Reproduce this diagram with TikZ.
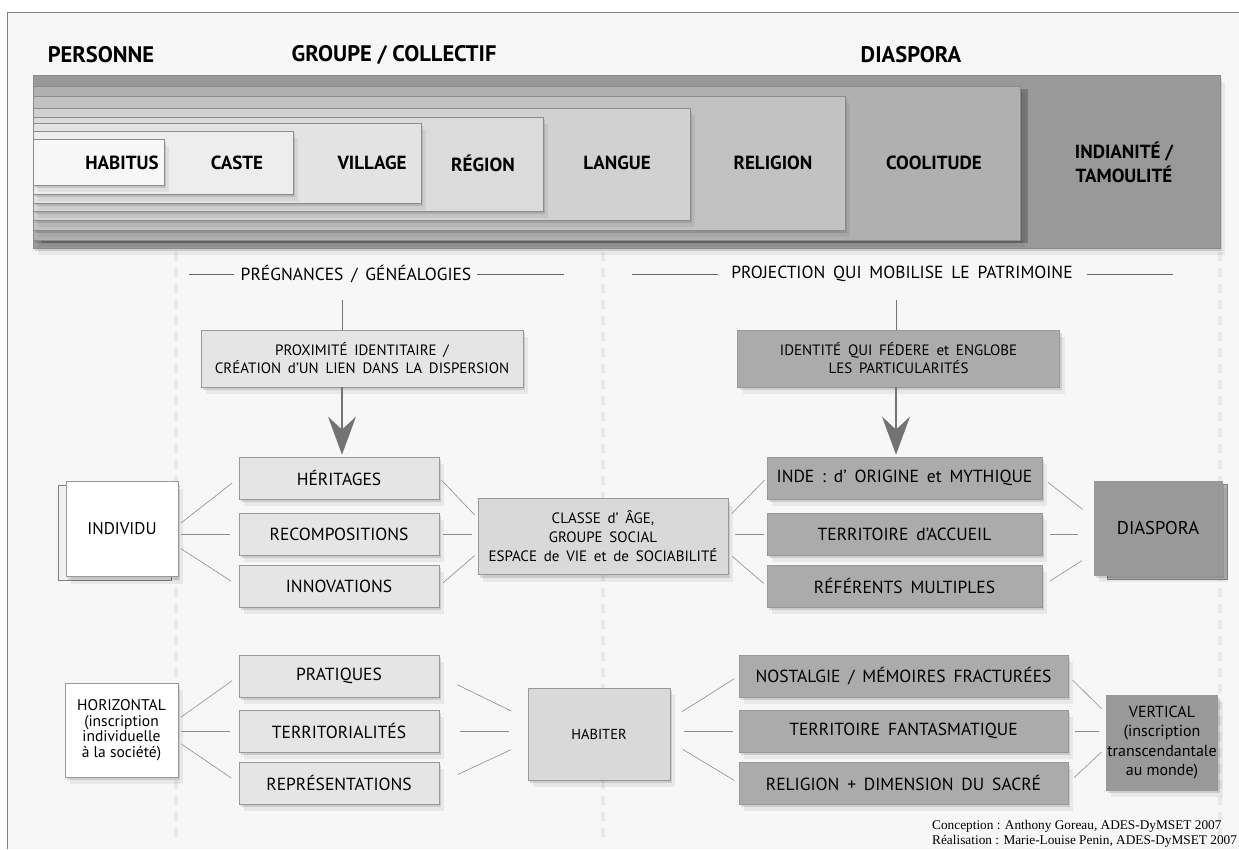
\documentclass[tikz,border=0pt]{standalone}
\usepackage{fontspec}
\setmainfont{PT Sans}
\newfontfamily\creditfont{Liberation Serif}
\newcommand\widewords{\spaceskip=0.45em plus 0.1em\relax}
\usetikzlibrary{arrows.meta,shadows,calc}

\begin{document}
\begin{tikzpicture}[x=1pt,y=-1pt,
    soft shadow/.style={drop shadow={shadow xshift=2pt,shadow yshift=-3pt,opacity=.12,fill=black},
                        drop shadow={shadow xshift=5pt,shadow yshift=-7pt,opacity=.06,fill=black}},
    band box/.style={draw=black!45,line width=.8pt,soft shadow},
    band label/.style={font=\bfseries\fontsize{19}{24}\selectfont,align=center},
    head label/.style={font=\bfseries\fontsize{22.5}{26}\selectfont},
    section label/.style={font=\fontsize{17.5}{20}\selectfont\widewords,inner sep=0pt},
    rule line/.style={draw=black!60,line width=.7pt},
    guide/.style={draw=black!9,line width=4pt,dash pattern=on 9pt off 7pt},
    every box/.style={draw=black!40,line width=.8pt,align=center,inner sep=1pt,soft shadow},
    row box/.style={every box,minimum height=42pt,font=\fontsize{17.5}{20}\selectfont\widewords},
    light row/.style={row box,fill=black!10,minimum width=200pt},
    dark row/.style={row box,fill=black!33},
    note box/.style={every box,minimum height=57pt,minimum width=322pt,font=\fontsize{15}{18}\selectfont\widewords},
    hub box/.style={every box,fill=black!15,font=\fontsize{15}{19}\selectfont\widewords},
    end box/.style={every box,font=\fontsize{15.5}{15.5}\selectfont},
    sheet box/.style={draw=black!50,line width=.8pt},
    link/.style={draw=black!45,line width=.6pt},
    feed line/.style={draw=black!55,line width=1pt},
    big arrow/.style={draw=black!55,line width=1.4pt,shorten >=2pt,-{Stealth[length=38pt,width=28pt,inset=13pt]}}]

  \useasboundingbox (0,0) rectangle (1239,849);
  % frame
  \fill[black!3] (7,12) rectangle (1239,849);
  \draw[black!50,line width=1pt] (7,849) -- (7,12) -- (1239,12);

  % dashed guides
  \draw[guide] (176,252) -- (176,842);
  \draw[guide] (603,252) -- (603,842);
  \draw[guide] (1220,252) -- (1220,842);

  % headings
  \node[head label] (head-personne) at (101,55) {PERSONNE};
  \node[head label] (head-groupe) at (394,55) {GROUPE / COLLECTIF};
  \node[head label] (head-diaspora) at (911,55) {DIASPORA};

  % nested band
  \filldraw[band box,fill=black!40] (33,75) rectangle (1220,248);
  \fill[black!53] (41,89) rectangle (1028,243);
  \filldraw[band box,fill=black!31] (33,86) rectangle (1020,240);
  \filldraw[band box,fill=black!24] (33,96) rectangle (845,230);
  \filldraw[band box,fill=black!18] (33,108) rectangle (690,220);
  \filldraw[band box,fill=black!14] (33,117) rectangle (543,211);
  \filldraw[band box,fill=black!11] (33,123) rectangle (421,203);
  \filldraw[band box,fill=black!7] (33,131) rectangle (293,194);
  \filldraw[band box,fill=black!3] (33,139) rectangle (164,185);

  \node[band label] (lab-habitus) at (122,163) {HABITUS};
  \node[band label] (lab-caste) at (237,163) {CASTE};
  \node[band label] (lab-village) at (372,163) {VILLAGE};
  \node[band label] (lab-region) at (483,163) {RÉGION};
  \node[band label] (lab-langue) at (617,163) {LANGUE};
  \node[band label] (lab-religion) at (773,163) {RELIGION};
  \node[band label] (lab-coolitude) at (934,163) {COOLITUDE};
  \node[band label] (lab-indianite) at (1124,162) {INDIANITÉ /\\TAMOULITÉ};

  % section titles
  \node[section label] (sec-genealogie) at (356,274) {PRÉGNANCES / GÉNÉALOGIES};
  \draw[rule line] ([xshift=-7pt]sec-genealogie.west) -- ++(-45,0);
  \draw[rule line] ([xshift=6pt]sec-genealogie.east) -- ++(87,0);
  \node[section label] (sec-projection) at (902,274) {PROJECTION QUI MOBILISE LE PATRIMOINE};
  \draw[rule line] ([xshift=-13pt]sec-projection.west) -- ++(-86,0);
  \draw[rule line] ([xshift=14pt]sec-projection.east) -- ++(86,0);

  % upper notes
  \node[note box,fill=black!10] (box-prox) at (362,358.5) {PROXIMITÉ IDENTITAIRE /\\CRÉATION d'UN LIEN DANS LA DISPERSION};
  \node[note box,fill=black!33] (box-ident) at (898.5,358.5) {IDENTITÉ QUI FÉDERE et ENGLOBE\\LES PARTICULARITÉS};

  % middle row
  \node[sheet box,fill=black!6,minimum width=113pt,minimum height=95pt] (sheet-indiv) at (115,533) {};
  \node[end box,fill=white,minimum width=112pt,minimum height=95pt,font=\fontsize{17}{20}\selectfont] (box-indiv) at (122,529) {INDIVIDU};
  \node[light row] (box-herit) at (339,478) {HÉRITAGES};
  \node[light row] (box-recomp) at (339,534) {RECOMPOSITIONS};
  \node[light row] (box-innov) at (339,586) {INNOVATIONS};
  \node[hub box,minimum width=250pt,minimum height=76pt] (box-classe) at (603,536.5) {CLASSE d' ÂGE,\\GROUPE SOCIAL\\ESPACE de VIE et de SOCIABILITÉ};
  \node[dark row,minimum width=275pt] (box-inde) at (904.5,478) {INDE : d' ORIGINE et MYTHIQUE};
  \node[dark row,minimum width=275pt] (box-accueil) at (904.5,534) {TERRITOIRE d'ACCUEIL};
  \node[dark row,minimum width=275pt] (box-refer) at (904.5,586) {RÉFÉRENTS MULTIPLES};
  \node[sheet box,fill=black!30,minimum width=120pt,minimum height=95pt] (sheet-diasp) at (1167,532) {};
  \node[end box,fill=black!40,minimum width=128pt,minimum height=94pt,font=\fontsize{18.5}{20}\selectfont] (box-diasp) at (1158,528) {DIASPORA};

  % lower row
  \node[end box,fill=white,minimum width=113pt,minimum height=94pt] (box-horiz) at (121.5,730) {HORIZONTAL\\(inscription\\individuelle\\à la société)};
  \node[light row] (box-prat) at (339,676) {PRATIQUES};
  \node[light row] (box-terr) at (339,731) {TERRITORIALITÉS};
  \node[light row] (box-repr) at (339,783) {REPRÉSENTATIONS};
  \node[hub box,minimum width=142pt,minimum height=92pt,font=\fontsize{14.5}{18}\selectfont] (box-habiter) at (599,734) {HABITER};
  \node[dark row,minimum width=329pt] (box-nost) at (903.5,676) {NOSTALGIE / MÉMOIRES FRACTURÉES};
  \node[dark row,minimum width=329pt] (box-fant) at (903.5,731) {TERRITOIRE FANTASMATIQUE};
  \node[dark row,minimum width=329pt] (box-sacre) at (903.5,783) {RELIGION + DIMENSION DU SACRÉ};
  \node[end box,fill=black!40,minimum width=102pt,minimum height=95pt,font=\fontsize{16}{19.5}\selectfont] (box-vert) at (1162,742.5) {VERTICAL\\(inscription\\transcendantale\\au monde)};

  % arrows into the rows
  \coordinate (feed-left) at (342,300);
  \coordinate (feed-right) at (896,300);
  \draw[feed line] (feed-left) -- (feed-left |- box-prox.north);
  \draw[big arrow] (feed-left |- box-prox.south) -- (feed-left |- box-herit.north);
  \draw[feed line] (feed-right) -- (feed-right |- box-ident.north);
  \draw[big arrow] (feed-right |- box-ident.south) -- (feed-right |- box-inde.north);

  % fans, middle row
  \draw[link,shorten <=3pt,shorten >=8pt] ($(box-indiv.east)+(0,-4)$) -- (box-herit.west);
  \draw[link,shorten <=3pt,shorten >=9pt] (box-recomp.west -| box-indiv.east) -- (box-recomp.west);
  \draw[link,shorten <=3pt,shorten >=9pt] ($(box-indiv.east)+(0,18)$) -- (box-innov.west);
  \draw[link,shorten <=3pt,shorten >=4pt] (box-herit.east) -- ($(box-recomp.east -| box-classe.west)+(0,-16)$);
  \draw[link,shorten <=4pt,shorten >=6pt] (box-recomp.east) -- (box-recomp.east -| box-classe.west);
  \draw[link,shorten <=5pt,shorten >=4pt] (box-innov.east) -- ($(box-recomp.east -| box-classe.west)+(0,19)$);
  \draw[link,shorten <=5pt,shorten >=3pt] ($(box-accueil.west -| box-classe.east)+(0,-17)$) -- (box-inde.west);
  \draw[link,shorten <=7pt,shorten >=3pt] (box-accueil.west -| box-classe.east) -- (box-accueil.west);
  \draw[link,shorten <=5pt,shorten >=4pt] ($(box-accueil.west -| box-classe.east)+(0,19)$) -- (box-refer.west);
  \draw[link,shorten <=7pt,shorten >=14pt] (box-inde.east) -- ($(box-accueil.east -| box-diasp.west)+(0,-16)$);
  \draw[link,shorten <=8pt,shorten >=16pt] (box-accueil.east) -- (box-accueil.east -| box-diasp.west);
  \draw[link,shorten <=9pt,shorten >=14pt] (box-refer.east) -- ($(box-accueil.east -| box-diasp.west)+(0,19)$);

  % fans, lower row
  \draw[link,shorten <=3pt,shorten >=8pt] ($(box-terr.west -| box-horiz.east)+(0,-12)$) -- (box-prat.west);
  \draw[link,shorten <=3pt,shorten >=9pt] (box-terr.west -| box-horiz.east) -- (box-terr.west);
  \draw[link,shorten <=3pt,shorten >=9pt] ($(box-terr.west -| box-horiz.east)+(0,11)$) -- (box-repr.west);
  \draw[link,shorten <=20pt,shorten >=18pt] (box-prat.east) -- ($(box-terr.east -| box-habiter.west)+(0,-12)$);
  \draw[link,shorten <=21pt,shorten >=19pt] (box-terr.east) -- (box-terr.east -| box-habiter.west);
  \draw[link,shorten <=20pt,shorten >=18pt] (box-repr.east) -- ($(box-terr.east -| box-habiter.west)+(0,11)$);
  \draw[link,shorten <=14pt,shorten >=5pt] ($(box-fant.west -| box-habiter.east)+(0,-12)$) -- (box-nost.west);
  \draw[link,shorten <=14pt,shorten >=6pt] (box-fant.west -| box-habiter.east) -- (box-fant.west);
  \draw[link,shorten <=14pt,shorten >=5pt] ($(box-fant.west -| box-habiter.east)+(0,11)$) -- (box-sacre.west);
  \draw[link,shorten <=6pt,shorten >=6pt] (box-nost.east) -- ($(box-fant.east -| box-vert.west)+(0,-18)$);
  \draw[link,shorten <=7pt,shorten >=7pt] (box-fant.east) -- (box-fant.east -| box-vert.west);
  \draw[link,shorten <=8pt,shorten >=6pt] (box-sacre.east) -- ($(box-fant.east -| box-vert.west)+(0,17)$);

  % credits
  \node[anchor=west,align=left,inner sep=0pt,font=\creditfont\fontsize{13.3}{14.5}\selectfont] (credit) at (932,834)
    {Conception : Anthony Goreau, ADES-DyMSET 2007\\Réalisation : Marie-Louise Penin, ADES-DyMSET 2007};
\end{tikzpicture}
\end{document}
